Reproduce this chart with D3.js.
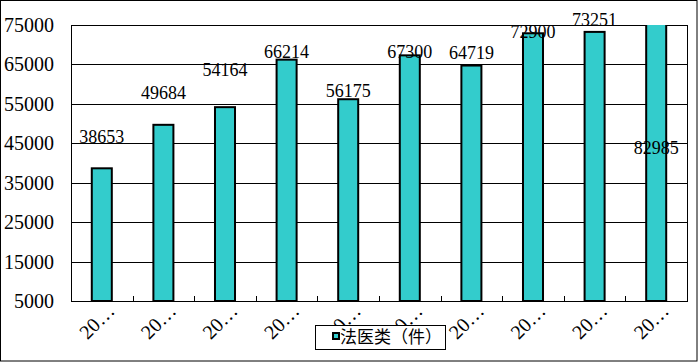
<!DOCTYPE html>
<html>
<head>
<meta charset="utf-8">
<script src="https://cdn.jsdelivr.net/npm/d3@7"></script>
<style>
  body { margin: 0; background: #fff; }
  svg { display: block; }
</style>
</head>
<body>
<div id="chart"></div>
<script>
"use strict";
var width = 698;
var height = 362;

// data
var tickLabels = ['20…', '20…', '20…', '20…', '20…', '20…', '20…', '20…', '20…', '20…'];
var values = [38653, 49684, 54164, 66214, 56175, 67300, 64719, 72900, 73251, 82985];
var yTicks = [5000, 15000, 25000, 35000, 45000, 55000, 65000, 75000];
var seriesName = '法医类（件）';

// label nudges (px from bar top), the source chart places them by hand
var labelDy = [-25, -25.5, -31, -2, -2, 2.3, -6.5, 5, -6.2, 160.5];

var plot = { left: 71, right: 687, top: 25, bottom: 301 };
var barColor = '#33CCCC';
var serif = '"Liberation Serif", "Times New Roman", serif';

var x = d3.scaleBand()
    .domain(d3.range(values.length))
    .range([plot.left, plot.right])
    .paddingInner(0.675)
    .paddingOuter(0.3375);

var y = d3.scaleLinear()
    .domain([5000, 75000])
    .range([plot.bottom, plot.top]);

var svg = d3.select('#chart')
    .append('svg')
    .attr('width', width)
    .attr('height', height);

// outer frame
svg.append('rect')
    .attr('x', 0.5).attr('y', 0.5)
    .attr('width', width - 1.5).attr('height', height - 1.5)
    .attr('fill', '#fff')
    .attr('stroke', '#000')
    .attr('stroke-width', 1);

svg.append('clipPath')
    .attr('id', 'plotclip')
    .append('rect')
    .attr('x', plot.left - 2).attr('y', plot.top)
    .attr('width', plot.right - plot.left + 4)
    .attr('height', plot.bottom - plot.top + 3);

// horizontal grid
svg.append('g')
    .selectAll('line')
    .data(yTicks)
    .enter()
    .append('line')
    .attr('x1', plot.left)
    .attr('x2', plot.right)
    .attr('y1', function (d) { return Math.round(y(d)) + 0.5; })
    .attr('y2', function (d) { return Math.round(y(d)) + 0.5; })
    .attr('stroke', '#000')
    .attr('stroke-width', 1);

// plot border
svg.append('rect')
    .attr('x', plot.left + 0.5)
    .attr('y', plot.top + 0.5)
    .attr('width', plot.right - plot.left)
    .attr('height', plot.bottom - plot.top)
    .attr('fill', 'none')
    .attr('stroke', '#000')
    .attr('stroke-width', 1);

// small ticks between categories
svg.append('g')
    .selectAll('line')
    .data(d3.range(1, values.length))
    .enter()
    .append('line')
    .attr('x1', function (i) { return Math.round(x(i) - x.step() * x.paddingInner() / 2) + 0.5; })
    .attr('x2', function (i) { return Math.round(x(i) - x.step() * x.paddingInner() / 2) + 0.5; })
    .attr('y1', plot.bottom)
    .attr('y2', plot.bottom - 5)
    .attr('stroke', '#000')
    .attr('stroke-width', 1);

// bars
svg.append('g')
    .attr('clip-path', 'url(#plotclip)')
    .selectAll('rect')
    .data(values)
    .enter()
    .append('rect')
    .attr('x', function (d, i) { return x(i); })
    .attr('y', function (d) { return y(d); })
    .attr('width', x.bandwidth())
    .attr('height', function (d) { return plot.bottom - y(d); })
    .attr('fill', barColor)
    .attr('stroke', '#000')
    .attr('stroke-width', 2);

// y axis labels
svg.append('g')
    .selectAll('text')
    .data(yTicks)
    .enter()
    .append('text')
    .attr('x', 54)
    .attr('y', function (d) { return y(d); })
    .attr('dy', '0.35em')
    .attr('text-anchor', 'end')
    .style('font-family', serif)
    .style('font-size', '20px')
    .text(function (d) { return d; });

// value labels
svg.append('g')
    .selectAll('text')
    .data(values)
    .enter()
    .append('text')
    .attr('x', function (d, i) { return x(i) + x.bandwidth() / 2; })
    .attr('y', function (d, i) { return y(d) + labelDy[i]; })
    .attr('text-anchor', 'middle')
    .style('font-family', serif)
    .style('font-size', '18px')
    .text(function (d) { return d; });

// category labels, rotated
svg.append('g')
    .selectAll('text')
    .data(tickLabels)
    .enter()
    .append('text')
    .attr('transform', function (d, i) {
        return 'translate(' + (x(i) + x.bandwidth() / 2 + 14) + ',' + 312 + ') rotate(-45)';
    })
    .attr('text-anchor', 'end')
    .style('font-family', serif)
    .style('font-size', '20px')
    .text(function (d) { return d; });

// legend
var legend = svg.append('g');
legend.append('rect')
    .attr('x', 315.5).attr('y', 325.5)
    .attr('width', 130).attr('height', 24)
    .attr('fill', '#fff')
    .attr('stroke', '#000')
    .attr('stroke-width', 1);
legend.append('rect')
    .attr('x', 333).attr('y', 333)
    .attr('width', 6).attr('height', 6)
    .attr('fill', barColor)
    .attr('stroke', '#000')
    .attr('stroke-width', 2);
legend.append('text')
    .attr('x', 340)
    .attr('y', 337.5)
    .attr('dy', '0.35em')
    .style('font-family', '"Noto Sans CJK SC", sans-serif')
    .style('font-size', '17px')
    .text(seriesName);
</script>
</body>
</html>
